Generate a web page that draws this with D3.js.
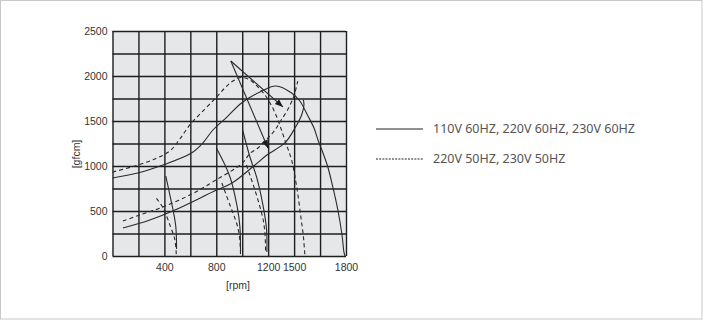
<!DOCTYPE html>
<html>
<head>
<meta charset="utf-8">
<script src="https://cdnjs.cloudflare.com/ajax/libs/d3/7.8.5/d3.min.js"></script>
<style>
	body { margin: 0; background: #fff; }
	svg { display: block; }
</style>
</head>
<body>
<div class="output"><svg width="703" height="320"></svg></div>
<script>

//Data: [rpm, gfcm]
var rpmTicks = [400, 800, 1200, 1500, 1800];
var rpmGrid = [0, 200, 400, 600, 800, 1000, 1200, 1500, 1650, 1800];
var torqueTicks = [0, 500, 1000, 1500, 2000, 2500];
var torqueGrid = [0, 250, 500, 750, 1000, 1250, 1500, 1750, 2000, 2250, 2500];

var solidUpper = [[0, 867], [195, 922], [388, 1011], [609, 1144], [697, 1256], [774, 1400], [882, 1544],
	[995, 1700], [1136, 1822], [1290, 1889], [1471, 1811], [1533, 1722], [1580, 1556], [1615, 1422],
	[1638, 1289], [1667, 1144], [1695, 989], [1725, 756], [1754, 500], [1777, 233], [1788, 44], [1794, 0]];
var solidLower = [[80, 311], [288, 400], [481, 511], [802, 733], [918, 808], [1098, 1011], [1190, 1122],
	[1393, 1256], [1505, 1422], [1544, 1570], [1557, 1681], [1553, 1737]];
var dashUpper = [[0, 933], [172, 1000], [326, 1078], [442, 1167], [519, 1300], [596, 1456], [697, 1611],
	[796, 1756], [866, 1867], [928, 1944], [996, 1983], [1058, 1956], [1121, 1878], [1175, 1789],
	[1241, 1667], [1300, 1544], [1346, 1422], [1404, 1256], [1471, 1067], [1515, 767], [1539, 433],
	[1554, 211], [1560, 67], [1563, 0]];
var dashLower = [[80, 389], [211, 456], [388, 544], [612, 689], [797, 844], [1000, 1030], [1060, 1140],
	[1121, 1200], [1198, 1311], [1279, 1400], [1336, 1489], [1417, 1611], [1498, 1778], [1521, 1944]];

//Load curves
var solidLoad500 = [[411, 889], [442, 678], [467, 511], [488, 326], [494, 78]];
var dashLoad500 = [[339, 641], [390, 533], [447, 326], [481, 178], [492, 11]];
var solidLoad1000 = [[802, 1197], [905, 881], [961, 548], [982, 326], [987, 48]];
var dashLoad1000 = [[843, 811], [905, 567], [943, 422], [967, 311], [982, 178], [987, 11]];
var solidLoad1200 = [[1003, 1400], [1059, 1103], [1110, 881], [1162, 548], [1188, 289], [1190, 44]];
var dashLoad1200 = [[1032, 1011], [1059, 900], [1098, 733], [1136, 548], [1162, 400], [1175, 256], [1180, 44]];

//Arrows: from apex to end
var arrowStart = [912, 2167];
var arrowEnds = [[1371, 1656], [1198, 1200]];

var legendLabels = ["110V 60HZ, 220V 60HZ, 230V 60HZ", "220V 50HZ, 230V 50HZ"];

//Define variables.
var svg = d3.select("div.output svg");
var plotLeft = 112.5, plotRight = 346, plotTop = 31, plotBottom = 256;
var col = (plotRight - plotLeft) / 9;

//Outer frame
svg.append("rect")
	.attr("x", 0.5).attr("y", 0.5)
	.attr("width", 701.5).attr("height", 318.5)
	.attr("fill", "#fff")
	.attr("stroke", "#c8c8c8");

//Scales. The rpm axis is not even: 1500 sits one column after 1200, 1800 two after.
var x = d3.scaleLinear()
	.domain([0, 400, 800, 1200, 1500, 1800])
	.range([plotLeft, plotLeft + 2 * col, plotLeft + 4 * col, plotLeft + 6 * col, plotLeft + 7 * col, plotLeft + 9 * col]);
var y = d3.scaleLinear()
	.domain([0, 2500])
	.range([plotBottom, plotTop]);

//--------------------------------GRID------------------------------------------------------------------

svg.append("rect")
	.attr("x", plotLeft).attr("y", plotTop)
	.attr("width", plotRight - plotLeft).attr("height", plotBottom - plotTop)
	.attr("fill", "#e6e7e8");

svg.append("g")
	.attr("class", "xgrid")
	.attr("transform", "translate(0," + plotBottom + ")")
	.call(d3.axisBottom(x).tickValues(rpmGrid).tickSize(-(plotBottom - plotTop)).tickFormat(""))
	.call(function(g){ g.select(".domain").remove(); });

svg.append("g")
	.attr("class", "ygrid")
	.attr("transform", "translate(" + plotLeft + ",0)")
	.call(d3.axisLeft(y).tickValues(torqueGrid).tickSize(-(plotRight - plotLeft)).tickFormat(""))
	.call(function(g){ g.select(".domain").remove(); });

svg.selectAll(".xgrid line, .ygrid line")
	.attr("stroke", "#1e1e1e")
	.attr("stroke-width", 1.4);

//----------------------AXIS LABELS-----------------------------------------------------------------------

var xaxis = svg.append("g")
	.attr("transform", "translate(0," + plotBottom + ")")
	.call(d3.axisBottom(x).tickValues(rpmTicks).tickSize(0).tickPadding(8).tickFormat(d3.format("d")));
var yaxis = svg.append("g")
	.attr("transform", "translate(" + plotLeft + ",0)")
	.call(d3.axisLeft(y).tickValues(torqueTicks).tickSize(0).tickPadding(5).tickFormat(d3.format("d")));

xaxis.select(".domain").remove();
yaxis.select(".domain").remove();
svg.selectAll(".tick text")
	.attr("font-family", "Liberation Sans, Arial, sans-serif")
	.attr("font-size", "10.5px")
	.attr("fill", "#333");

svg.append("text")
	.attr("x", 238).attr("y", 289)
	.attr("text-anchor", "middle")
	.attr("font-family", "Liberation Sans, Arial, sans-serif")
	.attr("font-size", "10.5px")
	.attr("fill", "#333")
	.text("[rpm]");

svg.append("text")
	.attr("transform", "translate(80,154) rotate(-90)")
	.attr("text-anchor", "middle")
	.attr("font-family", "Liberation Sans, Arial, sans-serif")
	.attr("font-size", "10.5px")
	.attr("fill", "#333")
	.text("[gfcm]");

//--------------------------------CURVES----------------------------------------------------------------

var line = d3.line()
	.x(function(d){ return x(d[0]); })
	.y(function(d){ return y(d[1]); })
	.curve(d3.curveCatmullRom.alpha(0.5));

var curves = [
	{data: solidUpper, dash: null}, {data: solidLower, dash: null},
	{data: dashUpper, dash: "4,3"}, {data: dashLower, dash: "4,3"},
	{data: solidLoad500, dash: null}, {data: dashLoad500, dash: "4,3"},
	{data: solidLoad1000, dash: null}, {data: dashLoad1000, dash: "4,3"},
	{data: solidLoad1200, dash: null}, {data: dashLoad1200, dash: "4,3"}
];

svg.append("g").selectAll("path")
	.data(curves)
	.enter().append("path")
		.attr("d", function(d){ return line(d.data); })
		.attr("fill", "none")
		.attr("stroke", "#2a2a2a")
		.attr("stroke-width", 1.1)
		.attr("stroke-dasharray", function(d){ return d.dash; });

//Arrows
svg.append("defs").append("marker")
	.attr("id", "head")
	.attr("viewBox", "0 0 10 10")
	.attr("refX", 10).attr("refY", 5)
	.attr("markerWidth", 8).attr("markerHeight", 8)
	.attr("markerUnits", "userSpaceOnUse")
	.attr("orient", "auto")
	.append("path")
		.attr("d", "M0,1L10,5L0,9Z")
		.attr("fill", "#1a1a1a");

svg.append("g").selectAll("line")
	.data(arrowEnds)
	.enter().append("line")
		.attr("x1", x(arrowStart[0])).attr("y1", y(arrowStart[1]))
		.attr("x2", function(d){ return x(d[0]); })
		.attr("y2", function(d){ return y(d[1]); })
		.attr("stroke", "#2a2a2a")
		.attr("stroke-width", 1.1)
		.attr("marker-end", "url(#head)");

//--------------------------------LEGEND----------------------------------------------------------------

var legend = svg.append("g").selectAll("g")
	.data(legendLabels)
	.enter().append("g")
		.attr("transform", function(d, i){ return "translate(376," + (129 + i * 30) + ")"; });

legend.append("line")
	.attr("x1", 0).attr("x2", 47)
	.attr("stroke", "#222")
	.attr("stroke-width", 1)
	.attr("stroke-dasharray", function(d, i){ return i ? "2,1.2" : null; });

legend.append("text")
	.attr("x", 57).attr("dy", "0.35em")
	.attr("font-family", "Noto Sans, sans-serif")
	.attr("font-size", "12.5px")
	.attr("fill", "#555")
	.text(function(d){ return d; });

</script>
</body>
</html>
